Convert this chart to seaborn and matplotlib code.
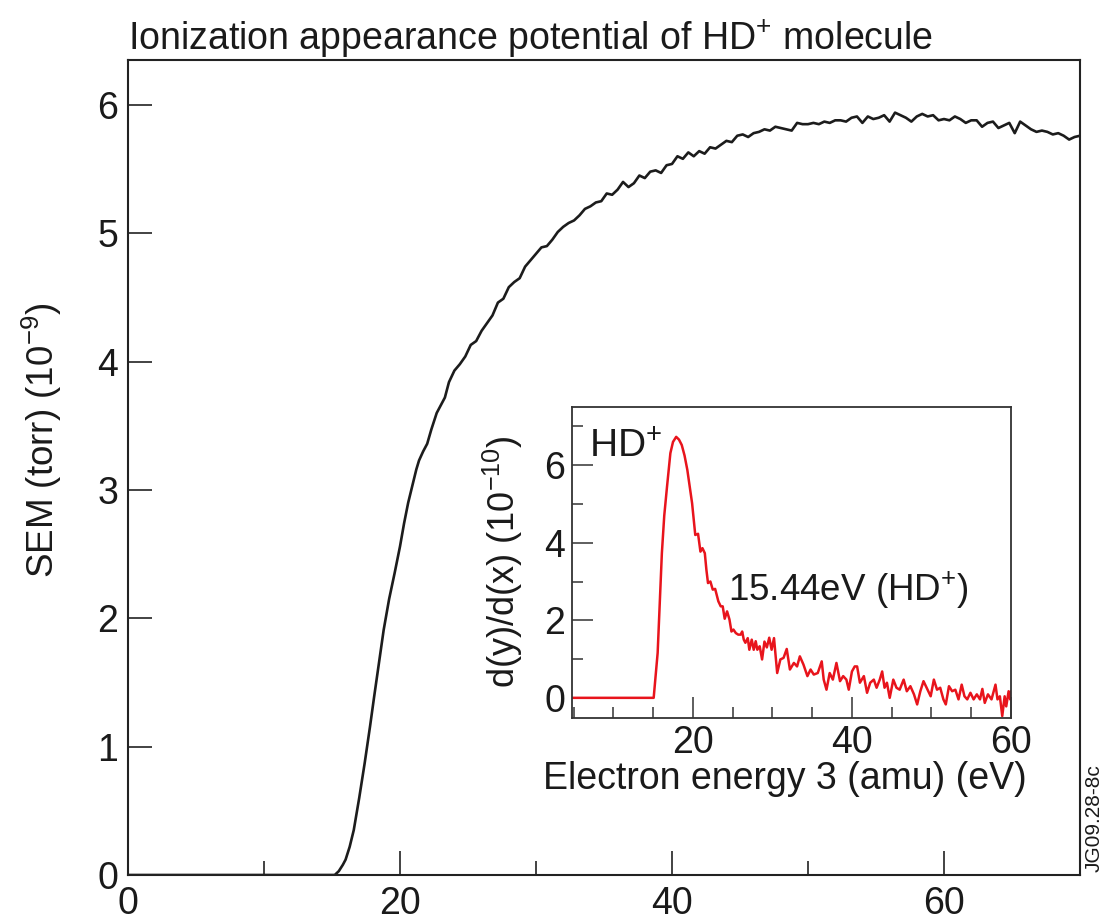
import matplotlib
matplotlib.use("Agg")
import matplotlib.pyplot as plt
import seaborn as sns
import pandas as pd
from matplotlib import font_manager as fm
from matplotlib.ticker import FixedLocator, MultipleLocator

# ---------------- data ----------------
main_energy = [0, 15.2, 15.5, 15.8, 16.0, 16.3, 16.6, 17.0, 17.4, 17.8, 18.1, 18.5, 18.8, 19.2, 19.6,
               20.0, 20.3, 20.6, 20.9, 21.2, 21.4, 21.7, 22.0, 22.3, 22.7, 23.0, 23.3, 23.6,
               24.0, 24.4, 24.8, 25.2, 25.6, 26.0, 26.4, 26.8, 27.2, 27.6, 28.0, 28.4, 28.8, 29.2, 29.6,
               30.0, 30.4, 30.8, 31.2, 31.6, 32.0, 32.4, 32.8, 33.2, 33.6, 34.0, 34.4, 34.8, 35.2, 35.6,
               36.0, 36.4, 36.8, 37.2, 37.6, 38.0, 38.4, 38.8, 39.2, 39.6, 40.0, 40.4, 40.8, 41.2, 41.6,
               42.0, 42.4, 42.8, 43.2, 43.6, 44.0, 44.4, 44.8, 45.2, 45.6, 46.0, 46.4, 46.8, 47.2, 47.6,
               48.0, 48.4, 48.8, 49.2, 49.6, 50.0, 50.4, 50.8, 51.2, 51.6, 52.0, 52.4, 52.8, 53.2, 53.6,
               54.0, 54.4, 54.8, 55.2, 55.6, 56.0, 56.4, 56.8, 57.2, 57.6, 58.0, 58.4, 58.8, 59.2, 59.6,
               60.0, 60.4, 60.8, 61.2, 61.6, 62.0, 62.4, 62.8, 63.2, 63.6, 64.0, 64.4, 64.8, 65.2, 65.6,
               66.0, 66.4, 66.8, 67.2, 67.6, 68.0, 68.4, 68.8, 69.2, 69.6, 70.0]
main_sem = [0, 0, 0.03, 0.08, 0.12, 0.22, 0.35, 0.6, 0.87, 1.16, 1.39, 1.69, 1.91, 2.15, 2.35,
            2.56, 2.74, 2.9, 3.03, 3.16, 3.23, 3.3, 3.36, 3.47, 3.6, 3.66, 3.72, 3.84,
            3.93, 3.98, 4.04, 4.13, 4.16, 4.24, 4.30, 4.36, 4.46, 4.49, 4.58, 4.62, 4.65, 4.74, 4.79,
            4.84, 4.89, 4.90, 4.95, 5.01, 5.05, 5.08, 5.10, 5.14, 5.19, 5.21, 5.24, 5.25, 5.31, 5.30,
            5.34, 5.40, 5.36, 5.39, 5.45, 5.43, 5.48, 5.49, 5.47, 5.53, 5.54, 5.60, 5.58, 5.63, 5.60,
            5.64, 5.62, 5.67, 5.66, 5.69, 5.72, 5.71, 5.76, 5.77, 5.75, 5.78, 5.79, 5.81, 5.80, 5.83,
            5.82, 5.81, 5.80, 5.86, 5.85, 5.85, 5.86, 5.85, 5.87, 5.86, 5.88, 5.88, 5.87, 5.90, 5.91,
            5.86, 5.91, 5.89, 5.90, 5.92, 5.87, 5.94, 5.92, 5.90, 5.87, 5.91, 5.93, 5.91, 5.92, 5.88,
            5.89, 5.88, 5.91, 5.89, 5.86, 5.88, 5.88, 5.83, 5.86, 5.87, 5.82, 5.84, 5.86, 5.78, 5.87,
            5.84, 5.81, 5.79, 5.80, 5.79, 5.77, 5.78, 5.76, 5.73, 5.75, 5.76]

inset_energy = [4.8, 15.07, 15.57, 16.1, 16.4, 16.75, 17.17, 17.5, 17.9, 18.25, 18.6, 18.95, 19.3, 19.9,
                20.3, 20.65, 20.95, 21.2, 21.5, 21.7, 21.9, 22.2, 22.5, 22.8, 23.2, 23.5, 23.75,
                24.0, 24.3, 24.6, 24.85, 25.1, 25.4, 25.7, 26.0, 26.2, 26.4, 26.6, 26.9, 27.1, 27.4,
                27.65, 27.9, 28.1, 28.4, 28.7, 29.0, 29.3, 29.6, 29.9, 30.2, 30.6, 31.0, 31.4, 31.8,
                32.2, 32.7, 33.1, 33.45, 33.9, 34.4, 34.8, 35.2, 35.7, 36.2, 36.45, 36.8, 37.2, 37.6,
                38.05, 38.5, 38.9, 39.3, 39.6, 40.0, 40.35, 40.65, 41.0, 41.5, 41.9, 42.3, 42.75, 43.1,
                43.5, 43.8, 44.1, 44.4, 44.75, 45.2, 45.6, 46.0, 46.5, 46.9, 47.35, 47.8, 48.2, 48.6,
                49.0, 49.5, 49.9, 50.3, 50.7, 51.1, 51.5, 51.8, 52.2, 52.6, 53.0, 53.4, 53.8, 54.15,
                54.5, 54.9, 55.3, 55.7, 56.1, 56.4, 56.7, 57.1, 57.55, 58.05, 58.3, 58.6, 58.9, 59.2,
                59.4, 59.7, 59.9, 60.0]
inset_deriv = [0, 0, 1.16, 3.73, 4.7, 5.45, 6.31, 6.6, 6.73, 6.66, 6.52, 6.25, 5.88, 5.02,
               4.20, 4.23, 3.77, 3.86, 3.73, 3.30, 2.96, 3.0, 2.79, 2.81, 2.49, 2.36, 2.36,
               2.04, 2.23, 2.02, 1.71, 1.76, 1.67, 1.63, 1.63, 1.71, 1.50, 1.42, 1.54, 1.24, 1.50,
               1.24, 1.46, 1.24, 1.33, 0.99, 1.45, 1.30, 1.55, 1.24, 1.54, 0.64, 0.99, 1.03, 1.26,
               0.73, 0.90, 0.81, 1.07, 0.86, 0.56, 0.73, 0.60, 0.64, 0.94, 0.47, 0.21, 0.64, 0.47,
               0.90, 0.43, 0.56, 0.47, 0.21, 0.68, 0.81, 0.81, 0.39, 0.56, 0.13, 0.39, 0.47, 0.26,
               0.47, 0.68, 0.26, 0.39, 0.0, 0.47, 0.26, 0.21, 0.47, 0.17, 0.30, 0.09, -0.17, 0.17,
               0.43, 0.21, 0.04, 0.47, 0.21, 0.26, -0.04, -0.17, 0.30, 0.17, 0.21, -0.04, 0.34, 0.04,
               -0.04, 0.13, -0.04, 0.09, -0.04, 0.23, -0.13, 0.09, -0.04, 0.34, -0.04, 0.04, -0.47, 0.04,
               -0.22, 0.17, -0.04, 0.17]

main_xticks = [0, 20, 40, 60]
main_yticks = [0, 1, 2, 3, 4, 5, 6]
inset_xticks = [20, 40, 60]
inset_yticks = [0, 2, 4, 6]

title_text = "Ionization appearance potential of HD$^{+}$ molecule"
main_ylabel = "SEM (torr) (10$^{\u22129}$)"
inset_ylabel = "d(y)/d(x) (10$^{\u221210}$)"
inset_xlabel = "Electron energy 3 (amu) (eV)"
inset_tag = "HD$^{+}$"
inset_note = "15.44eV (HD$^{+}$)"
figure_code = "JG09.28-8c"

assert len(main_energy) == len(main_sem)
assert len(inset_energy) == len(inset_deriv)

# ---------------- style ----------------
sns.set_style("white")
names = {f.name for f in fm.fontManager.ttflist}
narrow = "Liberation Sans Narrow" if "Liberation Sans Narrow" in names else "Liberation Sans"
plt.rcParams["font.family"] = ["Liberation Sans", "DejaVu Sans"]
plt.rcParams["mathtext.fontset"] = "custom"
plt.rcParams["mathtext.rm"] = "Liberation Sans"
plt.rcParams["mathtext.it"] = "Liberation Sans:italic"
plt.rcParams["mathtext.bf"] = "Liberation Sans:bold"

W, H = 1103, 923
fig = plt.figure(figsize=(W / 100, H / 100), dpi=100)

def fx(px):
    return px / W

def fy(py):
    return 1 - py / H

# ---------------- main axes ----------------
ax = fig.add_axes([fx(128), fy(875), fx(1080) - fx(128), fy(60) - fy(875)])
df_main = pd.DataFrame({"energy": main_energy, "sem": main_sem})
sns.lineplot(data=df_main, x="energy", y="sem", ax=ax, color="#1c1c1c", lw=1.9,
             sort=False, estimator=None)
ax.set_xlim(0, 70)
ax.set_ylim(0, 6.35)
ax.set_xlabel("")
ax.set_ylabel("")
ax.xaxis.set_major_locator(FixedLocator(main_xticks))
ax.xaxis.set_minor_locator(FixedLocator([10, 30, 50]))
ax.yaxis.set_major_locator(FixedLocator(main_yticks))
ax.yaxis.set_minor_locator(FixedLocator([]))
ax.set_xticklabels([str(t) for t in main_xticks])
ax.set_yticklabels([str(t) for t in main_yticks])
ax.tick_params(axis="both", which="both", bottom=True, left=True, top=False, right=False)
ax.tick_params(axis="both", which="major", direction="in", length=17, width=1.2,
               color="#222222", labelsize=27, pad=8)
ax.tick_params(axis="x", which="minor", direction="in", length=10, width=1.2, color="#222222")
ax.tick_params(axis="y", which="major", pad=7)
for lab in ax.get_xticklabels() + ax.get_yticklabels():
    lab.set_family(narrow)
    lab.set_color("#1a1a1a")
for sp in ax.spines.values():
    sp.set_linewidth(1.5)
    sp.set_color("#222222")

fig.text(fx(128), fy(50), title_text, ha="left", va="baseline", fontsize=27,
         family=narrow, color="#1a1a1a")
fig.text(fx(42), fy(440), main_ylabel, ha="center", va="center", rotation=90,
         fontsize=26.5, color="#1a1a1a")
fig.text(fx(1094), fy(818), figure_code, ha="center", va="center", rotation=90,
         fontsize=15, color="#1a1a1a")

# ---------------- inset ----------------
axi = fig.add_axes([fx(572), fy(718), fx(1011) - fx(572), fy(407) - fy(718)])
df_in = pd.DataFrame({"energy": inset_energy, "deriv": inset_deriv})
sns.lineplot(data=df_in, x="energy", y="deriv", ax=axi, color="#e8141c", lw=1.8,
             sort=False, estimator=None)
axi.set_xlim(4.8, 60)
axi.set_ylim(-0.52, 7.5)
axi.set_xlabel("")
axi.set_ylabel("")
axi.xaxis.set_major_locator(FixedLocator(inset_xticks))
axi.xaxis.set_minor_locator(MultipleLocator(5))
axi.yaxis.set_major_locator(FixedLocator(inset_yticks))
axi.yaxis.set_minor_locator(FixedLocator([1, 3, 5, 7]))
axi.set_xticklabels([str(t) for t in inset_xticks])
axi.set_yticklabels([str(t) for t in inset_yticks])
axi.tick_params(axis="both", which="both", bottom=True, left=True, top=False, right=False)
axi.tick_params(axis="both", which="major", direction="in", length=15, width=1.1,
                color="#333333", labelsize=27, pad=5)
axi.tick_params(axis="both", which="minor", direction="in", length=8, width=1.1, color="#333333")
for lab in axi.get_xticklabels() + axi.get_yticklabels():
    lab.set_color("#1a1a1a")
for sp in axi.spines.values():
    sp.set_linewidth(1.3)
    sp.set_color("#333333")

axi.text(7.0, 6.2, inset_tag, ha="left", va="baseline", fontsize=28, color="#1a1a1a")
axi.text(24.4, 2.5, inset_note, ha="left", va="baseline", fontsize=26.5, color="#1a1a1a")
fig.text(fx(503), fy(562), inset_ylabel, ha="center", va="center", rotation=90,
         fontsize=26, color="#1a1a1a")
fig.text(fx(785), fy(789), inset_xlabel, ha="center", va="baseline",
         fontsize=27, color="#1a1a1a")

fig.savefig("out.png", dpi=100)
